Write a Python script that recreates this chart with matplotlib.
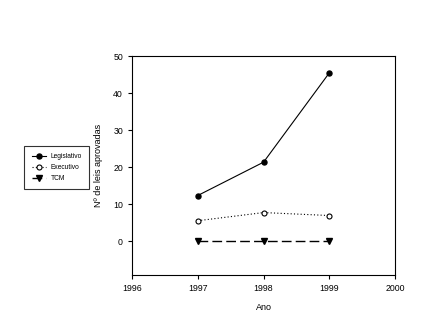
import matplotlib
matplotlib.use("Agg")
import matplotlib.pyplot as plt

plt.rcParams['font.family'] = ['Liberation Sans', 'DejaVu Sans']

anos = [1997, 1998, 1999]
legislativo = [12.4, 21.4, 45.5]
executivo = [5.6, 7.8, 7.0]
tcm = [0, 0, 0]

fig = plt.figure(figsize=(4.46, 3.36), dpi=100)
ax = fig.add_axes([0.296, 0.182, 0.59, 0.651])

ax.plot(anos, legislativo, color='black', lw=0.8, marker='o', ms=3.6,
        mfc='black', mec='black', label='Legislativo')
ax.plot(anos, executivo, color='black', lw=0.8, ls=(0, (1, 2)), marker='o',
        ms=3.6, mfc='white', mec='black', mew=0.8, label='Executivo')
ax.plot(anos, tcm, color='black', lw=1.0, ls=(0, (7, 3)), marker='v',
        ms=4, mfc='black', mec='black', label='TCM')

ax.set_xlim(1996, 2000)
ax.set_ylim(-9, 50)
ax.set_xticks([1996, 1997, 1998, 1999, 2000])
ax.set_yticks([0, 10, 20, 30, 40, 50])
ax.tick_params(direction='out', length=3, width=0.8, labelsize=6.3,
               top=False, right=False)
for s in ax.spines.values():
    s.set_linewidth(0.8)

ax.set_xlabel('Ano', fontsize=6.5, labelpad=7)
ax.set_ylabel('Nº de leis aprovadas', fontsize=6.5, labelpad=7)

leg = ax.legend(loc='center', bbox_to_anchor=(0.127, 0.501),
                bbox_transform=fig.transFigure, fontsize=4.8, frameon=True,
                fancybox=False, edgecolor='black', handlelength=2.2,
                borderpad=1.1, labelspacing=0.6, handletextpad=0.6,
                borderaxespad=0)
leg.get_frame().set_linewidth(0.8)

fig.savefig('out.png', dpi=100)
